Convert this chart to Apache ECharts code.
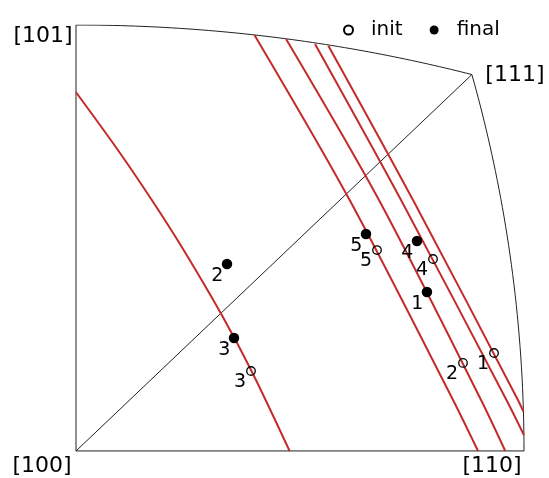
<!DOCTYPE html>
<html>
<head>
<meta charset="utf-8">
<script src="https://cdn.jsdelivr.net/npm/echarts/dist/echarts.min.js"></script>
<style>
  html, body { margin: 0; padding: 0; background: #fff; }
  #chart { width: 549px; height: 478px; }
</style>
</head>
<body>
<div id="chart"></div>
<script>
// ---- data -----------------------------------------------------------------
// Corner poles of the cubic standard triangle (crystal directions)
const poleNames = ['[100]', '[110]', '[111]', '[101]'];
const poleDirs  = [[1, 0, 0], [1, 1, 0], [1, 1, 1], [1, 0, 1]];

// Grain orientations in stereographic coordinates (X, Y)
const grainIds = ['1', '2', '3', '4', '5'];
const initX  = [0.3865, 0.3578, 0.1618, 0.3301, 0.2783];
const initY  = [0.0953, 0.0856, 0.0778, 0.1867, 0.1954];
const finalX = [0.3245, 0.1396, 0.1461, 0.3153, 0.2681];
const finalY = [0.1546, 0.1818, 0.1099, 0.2042, 0.2110];

// Slip traces (stereographic X, Y along each trace)
const trace3 = [[0.0000, 0.3488], [0.0387, 0.2927], [0.0701, 0.2440], [0.0995, 0.1954],
                [0.1353, 0.1313], [0.1623, 0.0778], [0.1975, 0.0000]];
const trace5 = [[0.1650, 0.4045], [0.2530, 0.2440], [0.3486, 0.0496], [0.3717, 0.0000]];
const trace2 = [[0.1942, 0.4006], [0.2801, 0.2440], [0.3745, 0.0496], [0.3969, 0.0000]];
const trace4 = [[0.2210, 0.3957], [0.3005, 0.2440], [0.3980, 0.0496], [0.4141, 0.0156]];
const trace1 = [[0.2333, 0.3941], [0.3116, 0.2440], [0.4086, 0.0496], [0.4137, 0.0382]];
const traces = [trace3, trace5, trace2, trace4, trace1];

// ---- geometry helpers -------------------------------------------------------
// Stereographic projection about [100]: horizontal = [010], vertical = [001]
function project(d) {
  const n = Math.hypot(d[0], d[1], d[2]);
  return [d[1] / (n + d[0]), d[2] / (n + d[0])];
}
// Great-circle edge between two poles, sampled along the chord
function edge(a, b, steps) {
  const pts = [];
  for (let i = 0; i <= steps; i++) {
    const s = i / steps;
    pts.push(project([a[0] + (b[0] - a[0]) * s, a[1] + (b[1] - a[1]) * s, a[2] + (b[2] - a[2]) * s]));
  }
  return pts;
}

const P = poleDirs.map(project);
const extent = P[1][0];

const frame = [].concat(
  edge(poleDirs[1], poleDirs[2], 40),
  edge(poleDirs[2], poleDirs[3], 60).slice(1)
);
const sides = [P[3], P[0], P[1]];
const diagonal = [P[0], P[2]];

// ---- styling ---------------------------------------------------------------
const FONT = 'DejaVu Sans';
const RED = '#c42a2a';
const INK = '#000';
const poleLabelOffset = [[-34, 15], [-32, 15], [43, 1], [-33, 11]];

const series = [];

series.push({
  type: 'line', data: sides, symbol: 'none', silent: true, z: 1,
  lineStyle: { color: '#555', width: 1.3 }
});
series.push({
  type: 'line', data: frame, symbol: 'none', silent: true, z: 1,
  lineStyle: { color: '#222', width: 1 }
});
series.push({
  type: 'line', data: diagonal, symbol: 'none', silent: true, z: 1,
  lineStyle: { color: '#222', width: 1 }
});
traces.forEach(t => series.push({
  type: 'line', data: t, symbol: 'none', silent: true, smooth: 0.3, z: 2,
  lineStyle: { color: RED, width: 2 }
}));

series.push({
  name: 'init', type: 'scatter', z: 5,
  data: grainIds.map((id, i) => [initX[i], initY[i], id]),
  symbol: 'circle', symbolSize: 8.5,
  itemStyle: { color: 'rgba(0,0,0,0)', borderColor: INK, borderWidth: 1.3, opacity: 1 },
  label: {
    show: true, formatter: p => p.data[2], position: [-6, 15.5],
    align: 'center', verticalAlign: 'middle',
    fontFamily: FONT, fontSize: 19, color: INK
  }
});
series.push({
  name: 'final', type: 'scatter', z: 5,
  data: grainIds.map((id, i) => [finalX[i], finalY[i], id]),
  symbol: 'circle', symbolSize: 10.5,
  itemStyle: { color: INK, opacity: 1 },
  label: {
    show: true, formatter: p => p.data[2], position: [-4.5, 17],
    align: 'center', verticalAlign: 'middle',
    fontFamily: FONT, fontSize: 19, color: INK
  }
});
series.push({
  type: 'scatter', silent: true, z: 6,
  data: poleNames.map((name, i) => ({
    value: [P[i][0], P[i][1]],
    name: name,
    label: { offset: poleLabelOffset[i] }
  })),
  symbolSize: 0.1,
  itemStyle: { color: 'rgba(0,0,0,0)', opacity: 1 },
  label: {
    show: true, formatter: p => p.name, position: 'inside',
    align: 'center', verticalAlign: 'middle',
    fontFamily: FONT, fontSize: 22, color: INK
  }
});

const chart = echarts.init(document.getElementById('chart'), null, { renderer: 'canvas' });
chart.setOption({
  animation: false,
  backgroundColor: '#fff',
  grid: { left: 76, right: 25, top: 25, bottom: 27, containLabel: false },
  xAxis: { type: 'value', min: 0, max: extent, show: false },
  yAxis: { type: 'value', min: 0, max: extent, show: false },
  legend: {
    data: ['init', 'final'],
    left: 338, top: 12,
    itemWidth: 9, itemHeight: 9, itemGap: 27,
    textStyle: { fontFamily: FONT, fontSize: 20, color: INK, lineHeight: 26, padding: [0, 0, 0, 13] }
  },
  series: series
});
</script>
</body>
</html>
